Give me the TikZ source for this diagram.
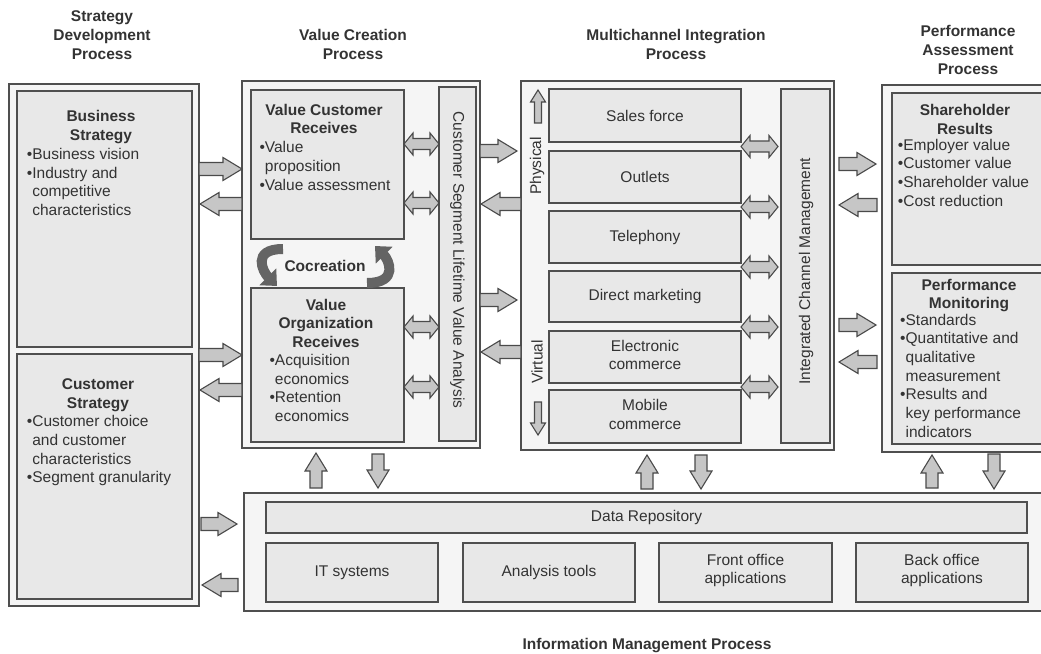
\documentclass[tikz,border=0pt]{standalone}
\usepackage{fontspec}
\setmainfont{Liberation Sans}
\usetikzlibrary{calc,arrows.meta}
\definecolor{linec}{HTML}{4F4F4F}
\definecolor{outerfill}{HTML}{F5F5F5}
\definecolor{innerfill}{HTML}{E8E8E8}
\definecolor{arrfill}{HTML}{C6C6C6}
\definecolor{arrline}{HTML}{4A4A4A}
\definecolor{txtc}{HTML}{333333}
\definecolor{cococ}{HTML}{646464}

\def\bsw{6.5pt}\def\bhw{11.5pt}\def\bhl{19pt}
\newcommand\setarr[3]{\def\bsw{#1}\def\bhw{#2}\def\bhl{#3}}
\newcommand\sarrow[2]{%
  \coordinate (tA) at #1; \coordinate (tB) at #2;
  \coordinate (tH) at ($(tB)!\bhl!(tA)$);
  \draw[blockarrow] ($(tA)!\bsw!90:(tB)$) -- ($(tH)!\bsw!90:(tB)$) -- ($(tH)!\bhw!90:(tB)$) -- (tB)
    -- ($(tH)!\bhw!-90:(tB)$) -- ($(tH)!\bsw!-90:(tB)$) -- ($(tA)!\bsw!-90:(tB)$) -- cycle;}
\newcommand\darrow[2]{%
  \coordinate (tA) at #1; \coordinate (tB) at #2;
  \coordinate (tH) at ($(tB)!\bhl!(tA)$); \coordinate (tG) at ($(tA)!\bhl!(tB)$);
  \draw[blockarrow] (tA) -- ($(tG)!\bhw!90:(tB)$) -- ($(tG)!\bsw!90:(tB)$) -- ($(tH)!\bsw!90:(tB)$)
    -- ($(tH)!\bhw!90:(tB)$) -- (tB) -- ($(tH)!\bhw!-90:(tB)$) -- ($(tH)!\bsw!-90:(tB)$)
    -- ($(tG)!\bsw!-90:(tB)$) -- ($(tG)!\bhw!-90:(tB)$) -- cycle;}

\tikzset{
  outerbox/.style={draw=linec, fill=outerfill, line width=1.4pt, anchor=north west, inner sep=0pt, outer sep=0pt},
  innerbox/.style={outerbox, fill=innerfill},
  body/.style={font=\fontsize{15.5}{18.7}\selectfont, text=txtc, inner sep=0pt},
  headtxt/.style={body, font=\fontsize{15.5}{18.7}\selectfont\bfseries, align=center, anchor=north},
  bullets/.style={body, align=left, anchor=north west},
  hdr/.style={font=\fontsize{15.5}{19}\selectfont\bfseries, text=txtc, inner sep=0pt, align=center, anchor=north},
  lbl/.style={body, align=center},
  blockarrow/.style={fill=arrfill, draw=arrline, line width=1.1pt, line join=miter},
  coco/.style={draw=cococ, line width=10pt, -{Triangle[width=23pt,length=13pt]}},
}

\begin{document}
\begin{tikzpicture}[x=1pt,y=-1pt]
\useasboundingbox (0,0) rectangle (1041,653);
\clip (0,0) rectangle (1041,653);

% headers
\node[hdr] (h1) at (102,8.2) {\strut Strategy\\Development\\Process};
\node[hdr] (h2) at (353,27.4) {\strut Value Creation\\Process};
\node[hdr] (h3) at (676,27.4) {\strut Multichannel Integration\\Process};
\node[hdr] (h4) at (968,22.7) {\strut Performance\\Assessment\\Process};
\node[hdr] (h5) at (647,635.7) {\strut Information Management Process};

% strategy development
\node[outerbox, minimum width=190pt, minimum height=522pt] (sd) at (9,84) {};
\node[innerbox, minimum width=175pt, minimum height=256pt] (bs) at (17,91) {};
\node[innerbox, minimum width=175pt, minimum height=245pt] (cs) at (17,354) {};
\node[headtxt] (bsh) at (101,108.6) {\strut Business\\Strategy};
\node[bullets] (bst) at (26.7,146.2) {\strut •Business vision\\•Industry and\\\phantom{•}competitive\\\phantom{•}characteristics};
\node[headtxt] (csh) at (98,376.2) {\strut Customer\\Strategy};
\node[bullets] (cst) at (26.7,413.6) {\strut •Customer choice\\\phantom{•}and customer\\\phantom{•}characteristics\\•Segment granularity};

% value creation
\node[outerbox, minimum width=238pt, minimum height=367pt] (vc) at (242,81) {};
\node[innerbox, minimum width=153pt, minimum height=149pt] (vcr) at (251,90) {};
\node[innerbox, minimum width=153pt, minimum height=154pt] (vor) at (251,288) {};
\node[innerbox, minimum width=37pt, minimum height=354pt] (cslva) at (439,87) {};
\node[headtxt] (vcrh) at (324,101.9) {\strut Value Customer\\Receives};
\node[bullets] (vcrt) at (259.3,139.6) {\strut •Value\\\phantom{•}proposition\\•Value assessment};
\node[headtxt] (vorh) at (326,296.9) {\strut Value\\Organization\\Receives};
\node[bullets] (vort) at (269.3,352.2) {\strut •Acquisition\\\phantom{•}economics\\•Retention\\\phantom{•}economics};
\node[lbl, rotate=-90] (cslvat) at (457.5,260) {Customer Segment Lifetime Value Analysis};
\node[body, font=\fontsize{15.5}{18.7}\selectfont\bfseries] (coc) at (325,266) {Cocreation};

% multichannel
\node[outerbox, minimum width=313pt, minimum height=369pt] (mc) at (521,81) {};
\node[innerbox, minimum width=192pt, minimum height=53pt] (sales) at (549,89) {};
\node[innerbox, minimum width=192pt, minimum height=52pt] (outl) at (549,151) {};
\node[innerbox, minimum width=192pt, minimum height=52pt] (tel) at (549,211) {};
\node[innerbox, minimum width=192pt, minimum height=51pt] (dm) at (549,271) {};
\node[innerbox, minimum width=192pt, minimum height=52pt] (ec) at (549,331) {};
\node[innerbox, minimum width=192pt, minimum height=53pt] (mob) at (549,390) {};
\node[innerbox, minimum width=49pt, minimum height=354pt] (icm) at (781,89) {};
\node[lbl] (salest) at (sales) {Sales force};
\node[lbl] (outlt) at (outl) {Outlets};
\node[lbl] (telt) at (tel) {Telephony};
\node[lbl] (dmt) at (dm) {Direct marketing};
\node[lbl] (ect) at ($(ec)+(0,-2)$) {Electronic\\commerce};
\node[lbl] (mobt) at ($(mob)+(0,-2)$) {Mobile\\commerce};
\node[lbl, rotate=90] (icmt) at (806,271) {Integrated Channel Management};
\node[lbl, rotate=90] (phys) at (537,166) {Physical};
\node[lbl, rotate=90] (virt) at (537,362) {Virtual};

% performance assessment
\node[outerbox, minimum width=170pt, minimum height=367pt] (pa) at (882,85) {};
\node[innerbox, minimum width=160pt, minimum height=172pt] (sr) at (892,93) {};
\node[innerbox, minimum width=160pt, minimum height=171pt] (pm) at (892,273) {};
\node[headtxt] (srh) at (965,102.4) {\strut Shareholder\\Results};
\node[bullets] (srt) at (897.7,136.9) {\strut •Employer value\\•Customer value\\•Shareholder value\\•Cost reduction};
\node[headtxt] (pmh) at (969,276.9) {\strut Performance\\Monitoring};
\node[bullets] (pmt) at (900,311.9) {\strut •Standards\\•Quantitative and\\\phantom{•}qualitative\\\phantom{•}measurement\\•Results and\\\phantom{•}key performance\\\phantom{•}indicators};

% information management
\node[outerbox, minimum width=820pt, minimum height=118pt] (im) at (244,493) {};
\node[innerbox, minimum width=761pt, minimum height=31pt] (dr) at (266,502) {};
\node[innerbox, minimum width=172pt, minimum height=59pt] (its) at (266,543) {};
\node[innerbox, minimum width=172pt, minimum height=59pt] (ant) at (463,543) {};
\node[innerbox, minimum width=173pt, minimum height=59pt] (fo) at (659,543) {};
\node[innerbox, minimum width=172pt, minimum height=59pt] (bo) at (856,543) {};
\node[lbl] (drt) at (dr) {Data Repository};
\node[lbl] (itst) at (its) {IT systems};
\node[lbl] (antt) at (ant) {Analysis tools};
\node[lbl] (fot) at ($(fo)+(0,-2)$) {Front office\\applications};
\node[lbl] (bot) at ($(bo)+(0,-2)$) {Back office\\applications};

% horizontal block arrows
\setarr{6.5pt}{11.5pt}{19pt}
\sarrow{(sd.east |- 0,169)}{(vc.west |- 0,169)}
\sarrow{(vc.west |- 0,204)}{($(sd.east |- 0,204)+(1,0)$)}
\sarrow{(sd.east |- 0,355)}{(vc.west |- 0,355)}
\sarrow{(vc.west |- 0,390)}{($(sd.east |- 0,390)+(1,0)$)}
\sarrow{($(sd.east |- 0,524)+(2,0)$)}{($(im.west |- 0,524)+(-7,0)$)}
\sarrow{($(im.west |- 0,585)+(-6,0)$)}{($(sd.east |- 0,585)+(3,0)$)}
\sarrow{(vc.east |- 0,151)}{($(mc.west |- 0,151)+(-4,0)$)}
\sarrow{(mc.west |- 0,204)}{($(vc.east |- 0,204)+(1,0)$)}
\sarrow{(vc.east |- 0,300)}{($(mc.west |- 0,300)+(-4,0)$)}
\sarrow{(mc.west |- 0,352)}{($(vc.east |- 0,352)+(1,0)$)}
\sarrow{($(mc.east |- 0,164)+(5,0)$)}{($(pa.west |- 0,164)+(-6,0)$)}
\sarrow{($(pa.west |- 0,205)+(-5,0)$)}{($(mc.east |- 0,205)+(5,0)$)}
\sarrow{($(mc.east |- 0,325)+(5,0)$)}{($(pa.west |- 0,325)+(-6,0)$)}
\sarrow{($(pa.west |- 0,362)+(-5,0)$)}{($(mc.east |- 0,362)+(5,0)$)}

% vertical block arrows
\setarr{6pt}{11pt}{18pt}
\sarrow{($(im.north -| 316,0)+(0,-5)$)}{($(vc.south -| 316,0)+(0,5)$)}
\sarrow{($(vc.south -| 378,0)+(0,6)$)}{($(im.north -| 378,0)+(0,-5)$)}
\sarrow{($(im.north -| 647,0)+(0,-4)$)}{($(mc.south -| 647,0)+(0,5)$)}
\sarrow{($(mc.south -| 701,0)+(0,5)$)}{($(im.north -| 701,0)+(0,-4)$)}
\sarrow{($(im.north -| 932,0)+(0,-5)$)}{($(pa.south -| 932,0)+(0,3)$)}
\sarrow{($(pa.south -| 994,0)+(0,2)$)}{($(im.north -| 994,0)+(0,-4)$)}

% physical / virtual arrows
\setarr{3.5pt}{7.5pt}{12pt}
\sarrow{($(mc.north west)+(17,42)$)}{($(mc.north west)+(17,9)$)}
\sarrow{($(mc.north west)+(17,321)$)}{($(mc.north west)+(17,354)$)}

% double arrows
\setarr{5.5pt}{11pt}{9pt}
\darrow{(vcr.east |- 0,144)}{(cslva.west |- 0,144)}
\darrow{(vcr.east |- 0,203)}{(cslva.west |- 0,203)}
\darrow{(vor.east |- 0,327)}{(cslva.west |- 0,327)}
\darrow{(vor.east |- 0,387)}{(cslva.west |- 0,387)}
\darrow{(sales.east |- 0,146.5)}{($(icm.west |- 0,146.5)+(-3,0)$)}
\darrow{(sales.east |- 0,207)}{($(icm.west |- 0,207)+(-3,0)$)}
\darrow{(sales.east |- 0,267)}{($(icm.west |- 0,267)+(-3,0)$)}
\darrow{(sales.east |- 0,327)}{($(icm.west |- 0,327)+(-3,0)$)}
\darrow{(sales.east |- 0,387)}{($(icm.west |- 0,387)+(-3,0)$)}

% cocreation arrows
\draw[coco] ($(vcr.south west)+(32,10)$) .. controls +(-32,0) and +(-14,-14) .. ($(vor.north west)+(26,-2)$);
\draw[coco] ($(vor.north east)+(-37,-5)$) .. controls +(32,0) and +(14,14) .. ($(vcr.south east)+(-29,7)$);
\end{tikzpicture}
\end{document}
